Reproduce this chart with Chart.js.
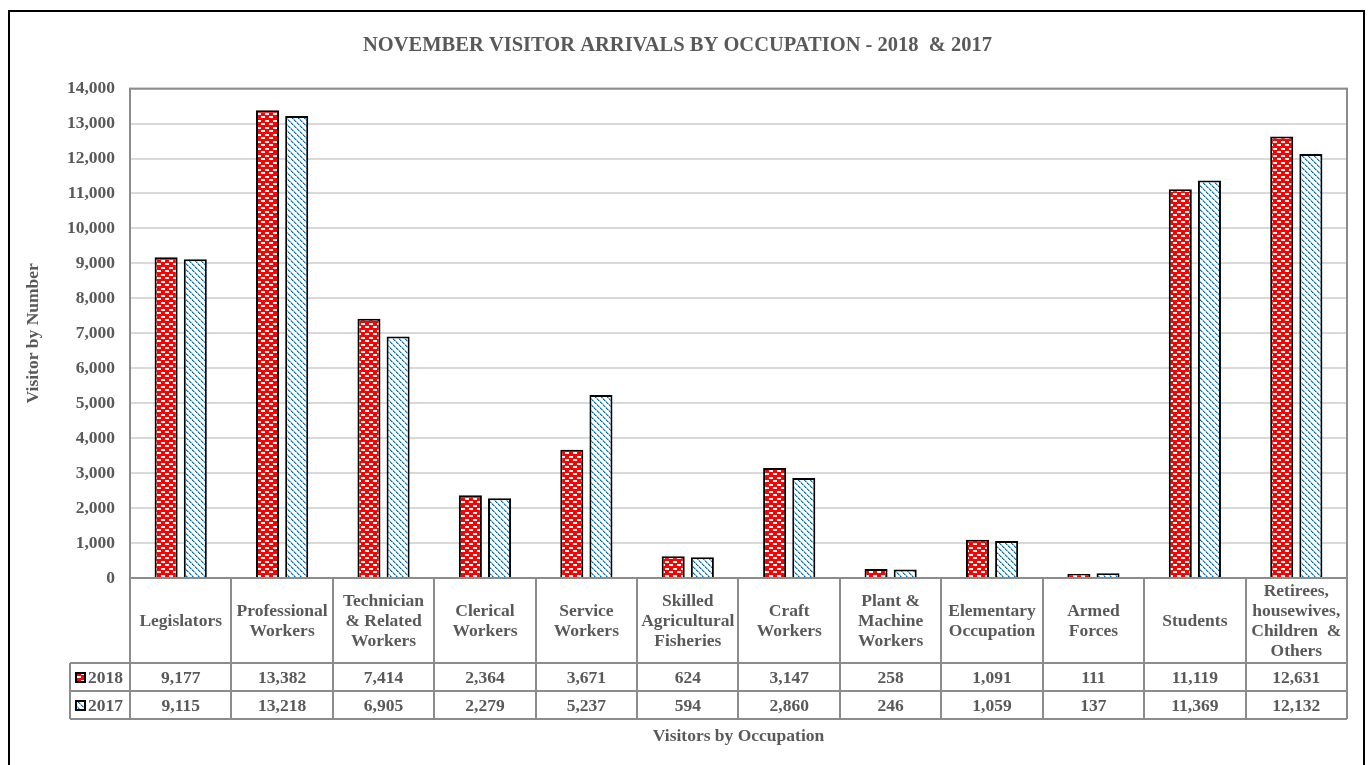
<!DOCTYPE html>
<html>
<head>
<meta charset="utf-8">
<script src="https://cdn.jsdelivr.net/npm/chart.js@4.4.0/dist/chart.umd.min.js"></script>
<style>
  html, body { margin: 0; padding: 0; background: #fff; }
  #caja { position: relative; width: 1370px; height: 765px; }
</style>
</head>
<body>
<div id="caja"><canvas id="grafico"></canvas></div>
<script>
// datos
const categorias = [
    ['Legislators'],
    ['Professional', 'Workers'],
    ['Technician', '& Related', 'Workers'],
    ['Clerical', 'Workers'],
    ['Service', 'Workers'],
    ['Skilled', 'Agricultural', 'Fisheries'],
    ['Craft', 'Workers'],
    ['Plant &', 'Machine', 'Workers'],
    ['Elementary', 'Occupation'],
    ['Armed', 'Forces'],
    ['Students'],
    ['Retirees,', 'housewives,', 'Children  &', 'Others'],
];
const visitantes2018 = [9177, 13382, 7414, 2364, 3671, 624, 3147, 258, 1091, 111, 11119, 12631];
const visitantes2017 = [9115, 13218, 6905, 2279, 5237, 594, 2860, 246, 1059, 137, 11369, 12132];
const etiquetasSerie = ['2018', '2017'];

const FUENTE = '"Liberation Serif", "Times New Roman", serif';
const GRIS_TEXTO = '#595959';
const GRIS_LINEA = '#8c8c8c';

function patronRojo() {
    const c = document.createElement('canvas');
    c.width = 8; c.height = 7;
    const g = c.getContext('2d');
    g.fillStyle = '#ff0000';
    g.fillRect(0, 0, 8, 7);
    g.fillStyle = '#ffffff';
    g.fillRect(1, 1, 4, 2);
    g.fillRect(5, 4, 3, 2);
    g.fillRect(0, 4, 1, 2);
    return g.createPattern(c, 'repeat');
}

function patronAzul() {
    const c = document.createElement('canvas');
    c.width = 6; c.height = 6;
    const g = c.getContext('2d');
    g.fillStyle = '#ffffff';
    g.fillRect(0, 0, 6, 6);
    for (let i = 0; i < 6; i++) {
        g.fillStyle = (i % 3 === 2) ? '#9cc8ea' : '#0070c0';
        g.fillRect(i, i, 1, 1);
        g.fillStyle = '#7fb6e3';
        g.fillRect((i + 1) % 6, i, 1, 1);
    }
    return g.createPattern(c, 'repeat');
}

const rellenos = [patronRojo(), patronAzul()];

// marco exterior, borde del area y tabla de datos bajo el eje
const tablaDatos = {
    id: 'tablaDatos',
    afterDraw(chart) {
        const ctx = chart.ctx;
        const area = chart.chartArea;
        const x = chart.scales.x;
        const n = categorias.length;
        const ancho = (area.right - area.left) / n;
        const yCab = area.bottom + 85;
        const yFila1 = yCab + 28;
        const yFila2 = yFila1 + 28;
        const izqLeyenda = 70;

        ctx.save();
        // marco del grafico
        ctx.strokeStyle = '#000';
        ctx.lineWidth = 2;
        ctx.strokeRect(9, 11, 1355, 770);

        // borde del area de trazado
        ctx.strokeStyle = GRIS_LINEA;
        ctx.lineWidth = 2;
        ctx.strokeRect(area.left, area.top, area.right - area.left, area.bottom - area.top);

        // lineas de la tabla
        ctx.beginPath();
        for (let i = 0; i <= n; i++) {
            const xl = Math.round(x.getPixelForValue(i) - ancho / 2);
            ctx.moveTo(xl, area.bottom);
            ctx.lineTo(xl, yFila2);
        }
        [yCab, yFila1, yFila2].forEach(yy => {
            ctx.moveTo(izqLeyenda, yy);
            ctx.lineTo(area.right, yy);
        });
        ctx.moveTo(izqLeyenda, yCab);
        ctx.lineTo(izqLeyenda, yFila2);
        ctx.stroke();

        // textos
        ctx.fillStyle = GRIS_TEXTO;
        ctx.font = 'bold 17.5px ' + FUENTE;
        ctx.textAlign = 'center';
        ctx.textBaseline = 'middle';
        const medioCab = (area.bottom + yCab) / 2;
        categorias.forEach((lineas, i) => {
            const cx = x.getPixelForValue(i);
            const alto = 19.7;
            const y0 = medioCab - (lineas.length - 1) * alto / 2 + 1;
            lineas.forEach((t, k) => ctx.fillText(t, cx, y0 + k * alto));
            ctx.fillText(visitantes2018[i].toLocaleString('en-US'), cx, (yCab + yFila1) / 2 + 1);
            ctx.fillText(visitantes2017[i].toLocaleString('en-US'), cx, (yFila1 + yFila2) / 2 + 1);
        });

        // leyenda dentro de la tabla
        ctx.textAlign = 'left';
        [[yCab, yFila1], [yFila1, yFila2]].forEach(([a, b], k) => {
            const ym = (a + b) / 2;
            ctx.fillStyle = rellenos[k];
            ctx.fillRect(76, ym - 4, 9, 9);
            ctx.strokeStyle = '#000';
            ctx.lineWidth = 2;
            ctx.strokeRect(76, ym - 4, 9, 9);
            ctx.fillStyle = GRIS_TEXTO;
            ctx.fillText(etiquetasSerie[k], 88, ym + 1);
        });

        // titulo del eje x
        ctx.textAlign = 'center';
        ctx.fillText('Visitors by Occupation', (area.left + area.right) / 2, yFila2 + 17);
        ctx.restore();
    },
};

new Chart(document.getElementById('grafico'), {
    type: 'bar',
    data: {
        labels: categorias,
        datasets: [
            {
                label: etiquetasSerie[0],
                data: visitantes2018,
                backgroundColor: rellenos[0],
                borderColor: '#000',
                borderWidth: 2,
            },
            {
                label: etiquetasSerie[1],
                data: visitantes2017,
                backgroundColor: rellenos[1],
                borderColor: '#000',
                borderWidth: 2,
            },
        ],
    },
    plugins: [tablaDatos],
    options: {
        responsive: true,
        maintainAspectRatio: false,
        animation: false,
        categoryPercentage: 0.575,
        barPercentage: 0.79,
        layout: {
            padding: { left: 8, right: 23, top: 0, bottom: 187 },
        },
        plugins: {
            legend: { display: false },
            tooltip: { enabled: false },
            title: {
                display: true,
                text: 'NOVEMBER VISITOR ARRIVALS BY OCCUPATION - 2018  & 2017',
                color: GRIS_TEXTO,
                font: { family: FUENTE, size: 20.5, weight: 'bold' },
                padding: { top: 33, bottom: 31 },
            },
        },
        scales: {
            x: {
                display: false,
            },
            y: {
                min: 0,
                max: 14000,
                ticks: {
                    stepSize: 1000,
                    color: GRIS_TEXTO,
                    padding: 15,
                    font: { family: FUENTE, size: 17.5, weight: 'bold' },
                    callback: v => v.toLocaleString('en-US'),
                },
                grid: {
                    color: '#d9d9d9',
                    lineWidth: 2,
                    drawTicks: false,
                },
                border: { display: false },
                title: {
                    display: true,
                    text: 'Visitor by Number',
                    color: GRIS_TEXTO,
                    font: { family: FUENTE, size: 17.5, weight: 'bold' },
                    padding: { top: 15, bottom: 0 },
                },
                afterFit(scale) {
                    scale.width = 122;
                },
            },
        },
    },
});
</script>
</body>
</html>
